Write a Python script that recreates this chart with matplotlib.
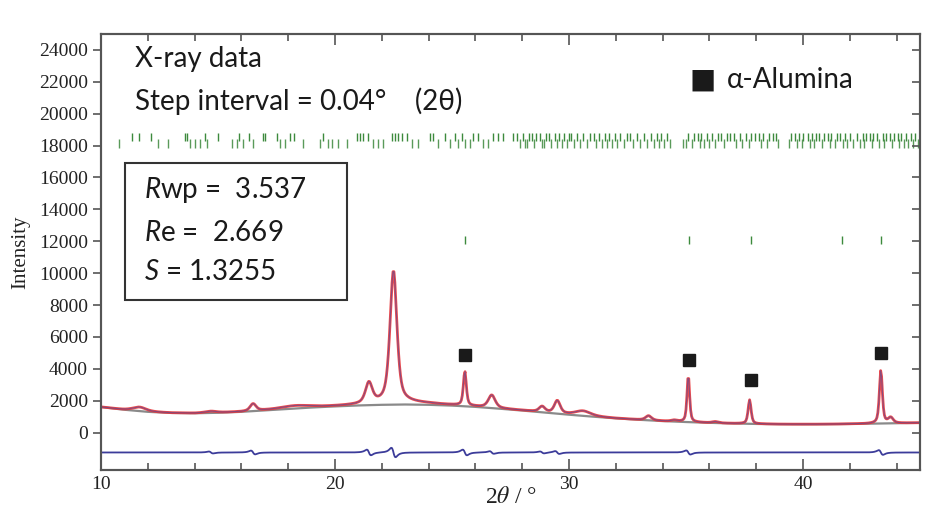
import numpy as np
import matplotlib.pyplot as plt
from matplotlib.patches import Rectangle

plt.rcParams['mathtext.fontset'] = 'custom'
plt.rcParams['mathtext.rm'] = 'Lato'
plt.rcParams['mathtext.it'] = 'Lato:italic'

# background (gray line), every 1 degree
bg_x = [10, 11, 12, 13, 14, 15, 16, 17, 18, 19, 20, 21, 22, 23, 24, 25, 26, 27,
        28, 29, 30, 31, 32, 33, 34, 35, 36, 37, 38, 39, 40, 41, 42, 43, 44, 45]
bg_y = [1600, 1430, 1300, 1230, 1210, 1240, 1300, 1390, 1480, 1570, 1640, 1700,
        1740, 1760, 1740, 1690, 1610, 1500, 1380, 1250, 1120, 1000, 890, 800,
        720, 660, 610, 570, 540, 525, 520, 525, 540, 560, 585, 610]

# peaks: position, height above background, FWHM
peak_pos = [11.65, 14.7, 16.5, 18.3, 21.45, 22.5, 23.0, 25.55, 26.7, 28.85,
            29.5, 30.6, 33.4, 34.5, 35.1, 36.25, 37.72, 43.33, 43.75]
peak_height = [250, 100, 450, 170, 1300, 8300, 120, 2150, 800, 350,
               800, 300, 280, 80, 2950, 80, 1500, 3350, 350]
peak_fwhm = [0.7, 0.6, 0.3, 1.5, 0.35, 0.35, 3.0, 0.15, 0.35, 0.3,
             0.3, 0.8, 0.3, 0.3, 0.13, 0.3, 0.15, 0.15, 0.25]

# misfit around some peaks (difference curve)
resid_pos = [14.7, 16.5, 21.45, 22.5, 25.55, 26.7, 28.85, 29.5, 35.1, 43.33]
resid_amp = [60, 120, 180, 300, 180, 80, 60, 90, 130, 150]
diff_offset = -1250

# alpha-alumina
alu_pos = [25.57, 35.14, 37.77, 43.35]
alu_mark_y = [4850, 4550, 3300, 5000]
alu_refl = [25.57, 35.14, 37.77, 41.68, 43.35]

# reflection markers of the main phase (two rows)
refl_upper = [11.31, 11.64, 12.12, 13.59, 13.69, 14.44, 15.01, 15.91, 16.34, 16.94,
              17.02, 17.54, 18.08, 18.25, 19.50, 20.93, 21.07, 21.21, 21.42, 22.42,
              22.56, 22.71, 22.85, 23.06, 24.06, 24.20, 24.70, 25.13, 25.41, 25.91,
              26.12, 26.76, 26.98, 27.19, 27.62, 27.76, 28.05, 28.3, 28.42, 28.6,
              28.75, 29.02, 29.15, 29.4, 29.58, 29.8, 30.0, 30.1, 30.35, 30.62,
              30.9, 31.05, 31.3, 31.55, 31.7, 31.95, 32.2, 32.5, 32.62, 32.9,
              33.2, 33.5, 33.75, 33.95, 34.2, 35.1, 35.35, 35.5, 35.65, 35.9,
              36.1, 36.38, 36.5, 36.75, 36.9, 37.05, 37.3, 37.55, 37.8, 37.95,
              38.1, 38.3, 38.55, 38.7, 38.85, 39.5, 39.65, 39.85, 40.0, 40.2,
              40.4, 40.55, 40.7, 40.9, 41.05, 41.2, 41.45, 41.6, 41.8, 42.0,
              42.3, 42.55, 42.7, 42.85, 43.0, 43.15, 43.4, 43.55, 43.7, 43.9,
              44.05, 44.2, 44.4, 44.6, 44.8]
refl_lower = [10.78, 12.45, 12.88, 13.80, 14.02, 14.23, 14.54, 15.58, 15.80, 16.08,
              16.51, 17.65, 17.86, 18.65, 19.36, 19.71, 19.86, 20.14, 20.50, 21.64,
              21.85, 22.06, 23.28, 23.56, 24.42, 24.91, 25.27, 25.56, 25.77, 26.34,
              26.55, 27.91, 28.12, 28.2, 28.5, 28.85, 28.95, 29.25, 29.5, 29.7,
              29.9, 30.22, 30.48, 30.75, 31.15, 31.42, 31.62, 31.85, 32.05, 32.35,
              32.75, 33.05, 33.35, 33.62, 33.85, 34.05, 34.3, 34.86, 35.0, 35.25,
              35.58, 35.78, 36.0, 36.25, 36.62, 37.15, 37.4, 37.68, 38.2, 38.45,
              38.95, 39.4, 39.75, 39.95, 40.3, 40.48, 40.8, 41.15, 41.35, 41.7,
              41.9, 42.15, 42.45, 42.6, 42.95, 43.25, 43.48, 43.8, 44.1, 44.3,
              44.5, 44.7, 44.9]


def pseudo_voigt(x, x0, h, w, eta=0.6):
    u = 2 * (x - x0) / w
    return h * (eta / (1 + u**2) + (1 - eta) * np.exp(-np.log(2) * u**2))


# step interval 0.04 deg
tt = np.arange(10, 45.0001, 0.04)
bg = np.interp(tt, bg_x, bg_y)
calc = bg.copy()
for p, h, w in zip(peak_pos, peak_height, peak_fwhm):
    calc += pseudo_voigt(tt, p, h, w)
obs = calc

diff = np.full_like(tt, diff_offset, dtype=float)
for p, a in zip(resid_pos, resid_amp):
    u = 2 * (tt - p) / 0.3
    diff += a * (-2 * u / (1 + u**2) ** 2) / 0.65

fig = plt.figure(figsize=(9.42, 5.12), dpi=100)
ax = fig.add_axes([0.1072, 0.082, 0.8694, 0.8516])

ax.plot(tt, obs, color='#e8383c', lw=2.0, alpha=0.9, zorder=3)
ax.plot(tt, calc, color='#4a4a9c', lw=0.8, alpha=0.6, zorder=4)
ax.plot(bg_x, bg_y, color='#8a8a8a', lw=1.6, zorder=2)
ax.plot(tt, diff, color='#3c3c9a', lw=1.3, zorder=3)

ax.vlines(refl_upper, 18300, 18800, color='#3d8a3d', lw=1.0)
ax.vlines(refl_lower, 17850, 18400, color='#5a9a5a', lw=1.0)
ax.vlines(alu_refl, 11850, 12300, color='#3d8a3d', lw=1.0)

ax.plot(alu_pos, alu_mark_y, ls='none', marker='s', ms=9, color='#1a1a1a', zorder=5)

ax.set_xlim(10, 45)
ax.set_ylim(-2350, 25000)
ax.set_xticks([10, 20, 30, 40])
ax.set_xticks(np.arange(10, 45, 2), minor=True)
ax.set_yticks(np.arange(0, 24001, 2000))

ax.tick_params(axis='y', which='major', direction='out', length=6, width=1.2, color='#555555',
               labelsize=14, labelcolor='#222222')
ax.tick_params(axis='x', which='both', direction='in', top=True, width=1.2, color='#555555',
               labelsize=14, labelcolor='#222222', pad=4)
ax.tick_params(axis='x', which='major', length=8)
ax.tick_params(axis='x', which='minor', length=5)
for lab in ax.get_xticklabels() + ax.get_yticklabels():
    lab.set_fontfamily('Liberation Serif')

ax2 = ax.twinx()
ax2.set_ylim(ax.get_ylim())
ax2.set_yticks(np.arange(0, 24001, 2000))
ax2.tick_params(axis='y', direction='in', length=6, width=1.2, color='#555555', labelright=False)

for a in (ax, ax2):
    for s in a.spines.values():
        s.set_color('#555555')
        s.set_linewidth(1.5)

ax.set_ylabel('Intensity', fontfamily='Liberation Serif', fontsize=15, color='#222222', labelpad=6)
ax.set_xlabel('2$\\theta$ / °', fontfamily='Liberation Serif', fontsize=17, color='#222222',
              math_fontfamily='stix', labelpad=-4)

txt = dict(fontfamily=['Lato', 'DejaVu Sans'], fontsize=20, color='#1a1a1a')
ax.text(0.041, 0.943, 'X-ray data', transform=ax.transAxes, va='center', **txt)
ax.text(0.041, 0.847, 'Step interval = 0.04°    (2θ)', transform=ax.transAxes, va='center', **txt)
ax.text(0.735, 0.895, '■', transform=ax.transAxes, va='center', ha='center', **txt)
ax.text(0.764, 0.895, 'α-Alumina', transform=ax.transAxes, va='center', **txt)

ax.add_patch(Rectangle((0.0293, 0.39), 0.271, 0.314, transform=ax.transAxes,
                       fc='white', ec='#333333', lw=1.5, zorder=6))
box_lines = ['$R$wp =  3.537', '$R$e =  2.669', '$S$ = 1.3255']
box_y = [0.642, 0.543, 0.455]
for s, y in zip(box_lines, box_y):
    ax.text(0.052, y, s, transform=ax.transAxes, va='center', zorder=7, **txt)

fig.savefig('out.png', dpi=100)
